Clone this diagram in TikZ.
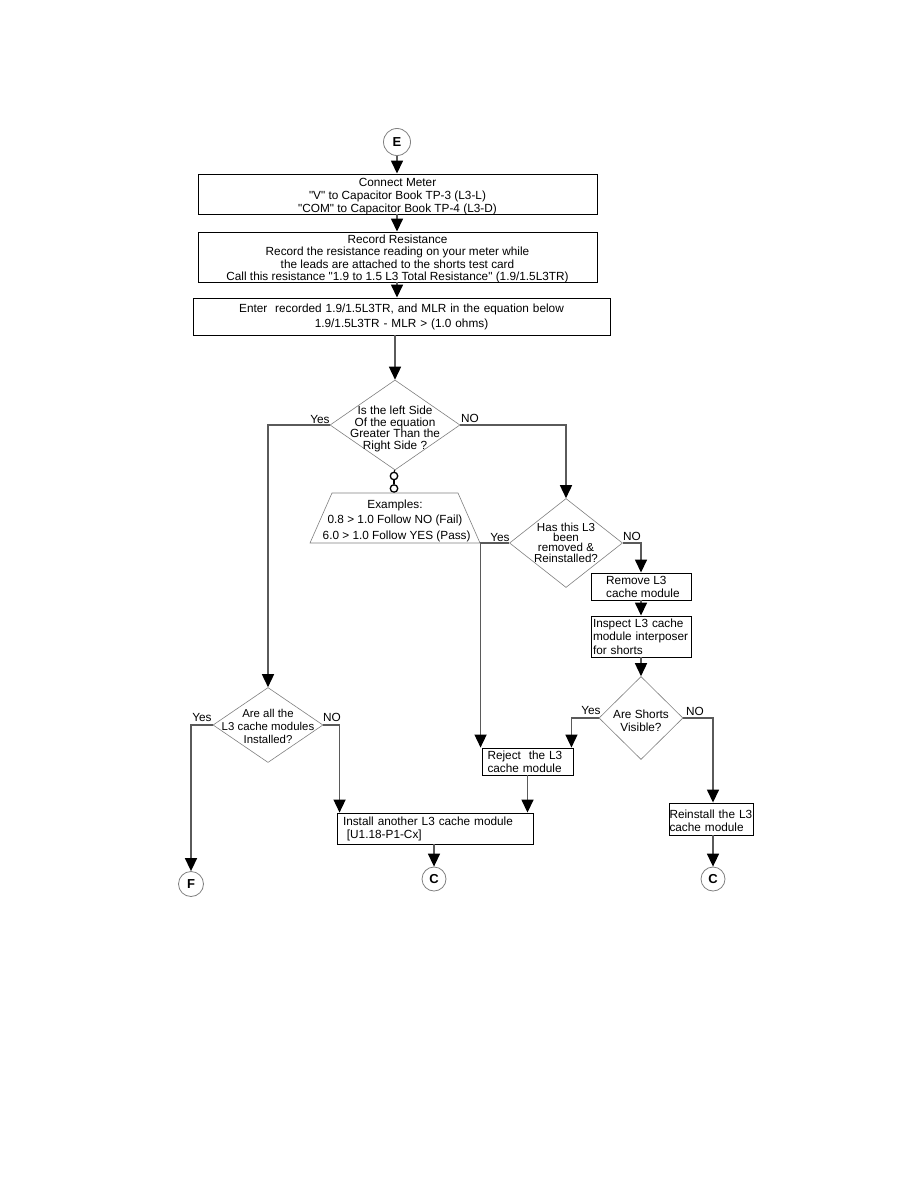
\documentclass[tikz,border=0pt]{standalone}
\usepackage{fontspec}
\setmainfont{Liberation Sans}[Ligatures=TeXOff]
\usetikzlibrary{arrows.meta,shapes.geometric}
\definecolor{lineg}{HTML}{5A5A5A}
\definecolor{diag}{HTML}{808080}
\begin{document}
\begin{tikzpicture}[x=1pt,y=-1pt,
  txt/.style={font=\fontsize{11.8}{13}\selectfont},
  box/.style={draw=black, line width=0.9pt, inner sep=0pt, txt},
  cbox/.style={box, align=center},
  lbox/.style={box, align=left},
  btext/.style={inner sep=0pt, txt, align=center},
  dia/.style={draw=diag, line width=0.6pt, diamond, inner sep=0pt},
  dtext/.style={align=center, inner sep=0pt},
  conn/.style={draw=diag, line width=0.8pt, circle, inner sep=0pt, font=\fontsize{13}{15}\selectfont\bfseries},
  lbl/.style={inner sep=0pt, txt},
  arr/.style={draw=lineg, line width=1.5pt, -{Triangle[width=12pt,length=13pt,black]}},
  dot/.style={draw=black, line width=1.3pt, circle, minimum size=7.5pt, inner sep=0pt}
]
\useasboundingbox (0,0) rectangle (918,1188);
\fill[white] (0,0) rectangle (918,1188);

% terminals
\node[conn, minimum size=27pt] (e) at (397,142) {E};
\node[conn, minimum size=25pt] (f) at (191,884) {F};
\node[conn, minimum size=24pt] (c1) at (434,879) {C};
\node[conn, minimum size=24pt] (c2) at (713,879) {C};

% boxes
\node[box, minimum width=399pt, minimum height=40pt] (b1) at (397.5,194) {};
\node[btext] (b1t) at (397.5,197)
  {Connect Meter\\ "V" to Capacitor Book TP-3 (L3-L)\\ "COM" to Capacitor Book TP-4 (L3-D)};
\node[box, minimum width=399pt, minimum height=50pt] (b2) at (397.5,257) {};
\node[btext, font=\fontsize{11.8}{12.5}\selectfont] (b2t) at (397.5,259)
  {Record Resistance\\ Record the resistance reading on your meter while\\
   the leads are attached to the shorts test card\\
   Call this resistance "1.9 to 1.5 L3 Total Resistance" (1.9/1.5L3TR)};
\node[cbox, minimum width=417pt, minimum height=37pt, text width=413pt,
  font=\fontsize{11.8}{15}\selectfont] (b3) at (401.5,316.5)
  {Enter\ \ recorded 1.9/1.5L3TR, and MLR in the equation below\\ 1.9/1.5L3TR - MLR > (1.0 ohms)};

\node[box, minimum width=100pt, minimum height=27pt] (rem) at (641,586.5) {};
\node[btext, align=left, anchor=west] (remt) at (606,586.5)
  {Remove L3\\cache module};
\node[lbox, minimum width=100pt, minimum height=41pt, text width=96pt,
  font=\fontsize{11.8}{13.5}\selectfont] (insp) at (641,636.5)
  {Inspect L3 cache\\module interposer\\for shorts};
\node[lbox, minimum width=91pt, minimum height=27pt, text width=80pt] (rej) at (527.5,761.5)
  {Reject\ \ the L3\\cache module};
\node[box, minimum width=84pt, minimum height=32pt] (rei) at (711,819) {};
\node[btext, align=left, text width=83pt] (reit) at (711,821)
  {Reinstall the L3\\cache module};
\node[lbox, minimum width=196pt, minimum height=31pt, text width=184pt] (inst) at (435,828.5)
  {Install another L3 cache module\\\ [U1.18-P1-Cx]};

% diamonds
\node[dia, minimum width=130pt, minimum height=90pt] (d1) at (395,425) {};
\node[dtext, font=\fontsize{11.8}{11.7}\selectfont] (d1t) at (395,429)
  {Is the left Side\\Of the equation\\Greater Than the\\Right Side ?};
\node[dia, minimum width=113pt, minimum height=89pt] (d3) at (566,543) {};
\node[dtext, font=\fontsize{11.6}{10.4}\selectfont] (d3t) at (566,542.5)
  {Has this L3\\been\\removed \&\\Reinstalled?};
\node[dia, minimum width=110pt, minimum height=75pt] (d2) at (268,725) {};
\node[dtext, font=\fontsize{11.4}{13}\selectfont] (d2t) at (268,726)
  {Are all the\\L3 cache modules\\Installed?};
\node[dia, minimum width=84pt, minimum height=83pt] (d4) at (641,718) {};
\node[dtext, txt] (d4t) at (641,720.5)
  {Are Shorts\\Visible?};

% examples
\node[dot] (o1) at (394,476) {};
\node[dot] (o2) at (394,488.5) {};
\draw[draw=diag, line width=0.6pt] (332,493) -- (458,493) -- (480,543) -- (310,543) -- cycle;
\node[dtext, font=\fontsize{11.8}{15.5}\selectfont] (ex) at (395,520.5)
  {Examples:\\0.8 > 1.0 Follow NO (Fail)\\\ 6.0 > 1.0 Follow YES (Pass)};
\draw[draw=black, line width=1.2pt] (d1.south) -- (o1.north);
\draw[draw=black, line width=1.2pt] (o1.south) -- (o2.north);

% labels
\node[lbl] (y1) at (320,419) {Yes};
\node[lbl] (n1) at (470,418) {NO};
\node[lbl] (y3) at (500,537) {Yes};
\node[lbl] (n3) at (632,536) {NO};
\node[lbl] (y4) at (591,710) {Yes};
\node[lbl] (n4) at (695,711) {NO};
\node[lbl] (y2) at (202,717) {Yes};
\node[lbl] (n2) at (332,717) {NO};

% arrows
\draw[arr] (e.south) -- (b1.north -| e.south);
\draw[arr] (b1.south -| e.south) -- (b2.north -| e.south);
\draw[arr] (b2.south -| e.south) -- (b3.north -| e.south);
\draw[arr] (b3.south -| d1.north) -- (d1.north);
\draw[arr] (d1.west) -| (d2.north);
\draw[arr] (d1.east) -| (d3.north);
\draw[arr] (d3.west) -| ([xshift=-1pt]rej.north west);
\draw[arr] (d3.east) -| (rem.north);
\draw[arr] (rem.south) -- (insp.north);
\draw[arr] (insp.south) -- (d4.north);
\draw[arr] (d4.west) -| ([xshift=-2pt]rej.north east);
\draw[arr] (d4.east) -| ([xshift=2pt]rei.north);
\draw[arr] ([xshift=2pt]rei.south) -- (c2.north);
\draw[arr] (rej.south) -- (rej.south |- inst.north);
\draw[arr] (d2.east) -| ([xshift=3pt]inst.north west);
\draw[arr] (d2.west) -| (f.north);
\draw[arr] (inst.south -| c1.north) -- (c1.north);
\end{tikzpicture}
\end{document}
